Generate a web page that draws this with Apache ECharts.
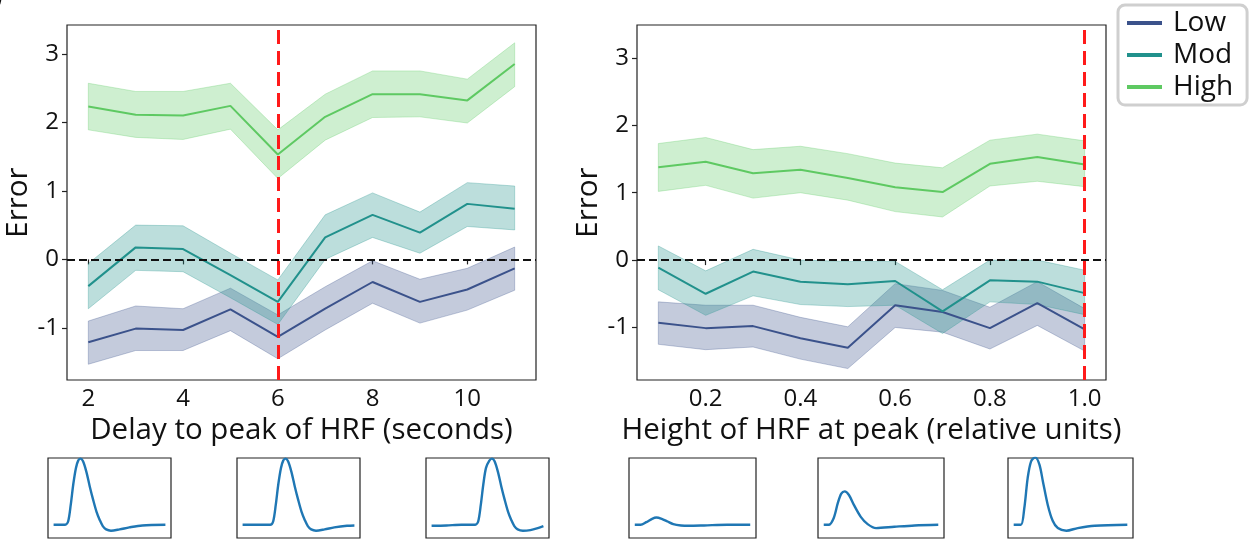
<!DOCTYPE html>
<html>
<head>
<meta charset="utf-8">
<script src="https://cdn.jsdelivr.net/npm/echarts@6/dist/echarts.min.js"></script>
<style>
  html, body { margin: 0; padding: 0; background: #fff; }
  #chart { width: 1249px; height: 540px; }
</style>
</head>
<body>
<div id="chart"></div>
<script>
// ---- data ----
const delays = [2, 3, 4, 5, 6, 7, 8, 9, 10, 11];
const heights = [0.1, 0.2, 0.3, 0.4, 0.5, 0.6, 0.7, 0.8, 0.9, 1.0];

// left panel: error vs delay to peak
const lowDelay   = [-1.21, -1.01, -1.03, -0.73, -1.13, -0.72, -0.33, -0.62, -0.44, -0.13];
const lowDelayHi = [-0.90, -0.68, -0.72, -0.42, -0.81, -0.40, -0.02, -0.29, -0.13, 0.18];
const lowDelayLo = [-1.53, -1.33, -1.33, -1.04, -1.45, -1.03, -0.64, -0.93, -0.74, -0.45];
const modDelay   = [-0.39, 0.175, 0.15, -0.23, -0.62, 0.32, 0.65, 0.39, 0.81, 0.74];
const modDelayHi = [-0.06, 0.50, 0.49, 0.09, -0.30, 0.65, 0.97, 0.69, 1.12, 1.07];
const modDelayLo = [-0.72, -0.16, -0.18, -0.56, -0.95, 0.00, 0.32, 0.09, 0.48, 0.43];
const highDelay   = [2.23, 2.11, 2.10, 2.24, 1.53, 2.08, 2.41, 2.41, 2.32, 2.85];
const highDelayHi = [2.57, 2.45, 2.45, 2.57, 1.89, 2.41, 2.75, 2.75, 2.63, 3.16];
const highDelayLo = [1.89, 1.78, 1.75, 1.90, 1.18, 1.74, 2.07, 2.08, 1.99, 2.52];

// right panel: error vs height at peak
const lowHeight   = [-0.93, -1.01, -0.98, -1.16, -1.30, -0.67, -0.77, -1.01, -0.64, -1.03];
const lowHeightHi = [-0.62, -0.67, -0.67, -0.85, -0.99, -0.35, -0.45, -0.70, -0.32, -0.72];
const lowHeightLo = [-1.25, -1.33, -1.29, -1.47, -1.61, -1.00, -1.07, -1.32, -0.97, -1.35];
const modHeight   = [-0.11, -0.50, -0.17, -0.32, -0.36, -0.31, -0.76, -0.30, -0.32, -0.49];
const modHeightHi = [0.21, -0.16, 0.16, 0.00, -0.02, -0.02, -0.44, 0.00, 0.00, -0.15];
const modHeightLo = [-0.44, -0.82, -0.53, -0.66, -0.69, -0.67, -1.09, -0.62, -0.66, -0.81];
const highHeight   = [1.38, 1.46, 1.29, 1.34, 1.22, 1.08, 1.01, 1.43, 1.53, 1.42];
const highHeightHi = [1.73, 1.82, 1.64, 1.69, 1.58, 1.44, 1.37, 1.78, 1.87, 1.77];
const highHeightLo = [1.02, 1.11, 0.92, 1.00, 0.89, 0.72, 0.64, 1.10, 1.17, 1.09];

// ticks
const delayTicks = [2, 4, 6, 8, 10];
const delayTickLabels = ['2', '4', '6', '8', '10'];
const heightTicks = [0.2, 0.4, 0.6, 0.8, 1.0];
const heightTickLabels = ['0.2', '0.4', '0.6', '0.8', '1.0'];
const errorTicks = [-1, 0, 1, 2, 3];
const errorTickLabels = ['-1', '0', '1', '2', '3'];

// HRF thumbnails: [time (s), response]
const hrfDelayA = [[0, 0], [3.1, 0], [3.9, 0.05], [4.6, 0.3], [5.3, 0.62], [6.0, 0.86], [6.6, 0.97], [7.2, 1.0],
  [7.9, 0.96], [8.8, 0.8], [9.7, 0.58], [10.6, 0.38], [11.5, 0.2], [12.4, 0.07], [13.2, -0.02], [14.1, -0.07],
  [15.4, -0.09], [17.7, -0.07], [20.3, -0.04], [23.8, -0.01], [30, 0]];
const hrfDelayB = [[0, 0], [7.4, 0], [8.2, 0.05], [8.9, 0.3], [9.6, 0.62], [10.3, 0.86], [10.9, 0.97], [11.5, 1.0],
  [12.2, 0.96], [13.1, 0.8], [14.0, 0.58], [14.9, 0.38], [15.8, 0.2], [16.7, 0.07], [17.5, -0.02], [18.4, -0.07],
  [19.7, -0.09], [22.0, -0.07], [24.6, -0.04], [28.0, -0.015], [30, -0.01]];
const hrfDelayC = [[0, -0.015], [4, -0.01], [8, 0], [11.7, 0], [12.5, 0.05], [13.2, 0.3], [13.9, 0.62], [14.6, 0.86],
  [15.5, 0.97], [16.2, 1.0], [16.9, 0.96], [17.8, 0.8], [18.7, 0.58], [19.6, 0.38], [20.5, 0.2], [21.4, 0.07],
  [22.2, -0.02], [23.1, -0.07], [24.5, -0.09], [26.5, -0.08], [28.5, -0.05], [30, -0.02]];
const hrfHeightA = [[0, 0], [1.5, 0], [3, 0.04], [4.5, 0.09], [5.6, 0.11], [7, 0.09], [8.5, 0.05], [10, 0.01],
  [12, -0.01], [14, -0.015], [18, -0.01], [24, 0], [30, 0]];
const hrfHeightB = [[0, 0], [1.3, 0], [2.6, 0.1], [3.7, 0.33], [4.6, 0.47], [5.5, 0.505], [6.6, 0.45], [7.9, 0.3],
  [9.7, 0.12], [11.5, 0.01], [13.7, -0.05], [18.5, -0.03], [23.8, -0.01], [30, 0]];
const hrfHeightC = [[0, 0], [1.9, 0], [2.8, 0.25], [3.7, 0.71], [4.6, 0.96], [5.7, 1.02], [6.8, 0.91], [7.7, 0.66],
  [9.0, 0.3], [10.3, 0.06], [11.65, -0.05], [13.9, -0.09], [16.9, -0.05], [21.4, -0.015], [30, 0]];

// ---- styling ----
const FONT = "'Open Sans', 'Noto Sans', sans-serif";
const INK = '#111';
const FRAME = '#222';
const C_LOW = '#3b528b', C_MOD = '#21918c', C_HIGH = '#5ec962';

function tickLabel(ticks, labels) {
  return function (v) {
    const i = ticks.findIndex(t => Math.abs(t - v) < 1e-9);
    return i >= 0 ? labels[i] : '';
  };
}

function mainX(g, min, max, ticks, labels, name) {
  return {
    type: 'value', gridIndex: g, min: min, max: max,
    name: name, nameLocation: 'middle', nameGap: 31,
    nameTextStyle: { fontSize: 29.5, color: INK, fontFamily: FONT },
    axisLine: { show: false },
    axisTick: { show: true, length: 5, customValues: ticks, lineStyle: { color: FRAME, width: 1.2 } },
    axisLabel: { customValues: ticks, formatter: tickLabel(ticks, labels), fontSize: 24, color: INK, fontFamily: FONT, margin: 7 },
    splitLine: { show: false }
  };
}

function mainY(g, min, max) {
  return {
    type: 'value', gridIndex: g, min: min, max: max,
    name: 'Error', nameLocation: 'middle', nameGap: 29,
    nameTextStyle: { fontSize: 29.5, color: INK, fontFamily: FONT },
    axisLine: { show: false },
    axisTick: { show: true, length: 5, customValues: errorTicks, lineStyle: { color: FRAME, width: 1.2 } },
    axisLabel: { customValues: errorTicks, formatter: tickLabel(errorTicks, errorTickLabels), fontSize: 24, color: INK, fontFamily: FONT, margin: 8 },
    splitLine: { show: false }
  };
}

function band(g, xs, lo, hi, color) {
  return {
    type: 'custom', xAxisIndex: g, yAxisIndex: g, silent: true, z: 1,
    data: xs.map((x, i) => [x, lo[i], hi[i]]),
    encode: { x: 0, y: [1, 2] },
    renderItem: function (params, api) {
      if (params.dataIndex !== 0) return;
      const pts = [];
      for (let i = 0; i < xs.length; i++) pts.push(api.coord([xs[i], hi[i]]));
      for (let i = xs.length - 1; i >= 0; i--) pts.push(api.coord([xs[i], lo[i]]));
      return {
        type: 'polygon', shape: { points: pts },
        style: { fill: color, stroke: color, lineWidth: 1, opacity: 0.3 }
      };
    }
  };
}

function meanLine(g, name, xs, ys, color, extra) {
  return Object.assign({
    name: name, type: 'line', xAxisIndex: g, yAxisIndex: g, z: 2,
    data: xs.map((x, i) => [x, ys[i]]),
    showSymbol: false, symbol: 'none',
    lineStyle: { color: color, width: 2 }, itemStyle: { color: color }
  }, extra || {});
}

function refLines(xRef) {
  return {
    silent: true, symbol: 'none', label: { show: false },
    data: [
      { yAxis: 0, lineStyle: { color: '#111', width: 2, type: [8, 4] } },
      { xAxis: xRef, lineStyle: { color: '#ff1a1a', width: 3, type: [14, 7] } }
    ]
  };
}

// thumbnails
const thumbs = [
  { left: 48, width: 123, data: hrfDelayA },
  { left: 237, width: 123, data: hrfDelayB },
  { left: 426, width: 123, data: hrfDelayC },
  { left: 629, width: 127, data: hrfHeightA },
  { left: 818, width: 126, data: hrfHeightB },
  { left: 1008, width: 125, data: hrfHeightC }
];

const grids = [
  { left: 67, top: 25, width: 469, height: 355, show: true, borderColor: FRAME, borderWidth: 1.2, backgroundColor: 'transparent' },
  { left: 637, top: 25, width: 469, height: 355, show: true, borderColor: FRAME, borderWidth: 1.2, backgroundColor: 'transparent' }
];
const xAxes = [
  mainX(0, 1.55, 11.45, delayTicks, delayTickLabels, 'Delay to peak of HRF (seconds)'),
  mainX(1, 0.055, 1.045, heightTicks, heightTickLabels, 'Height of HRF at peak (relative units)')
];
const yAxes = [mainY(0, -1.76, 3.42), mainY(1, -1.78, 3.49)];
const series = [
  band(0, delays, lowDelayLo, lowDelayHi, C_LOW),
  band(0, delays, modDelayLo, modDelayHi, C_MOD),
  band(0, delays, highDelayLo, highDelayHi, C_HIGH),
  meanLine(0, 'Low', delays, lowDelay, C_LOW),
  meanLine(0, 'Mod', delays, modDelay, C_MOD),
  meanLine(0, 'High', delays, highDelay, C_HIGH, { markLine: refLines(6) }),
  band(1, heights, lowHeightLo, lowHeightHi, C_LOW),
  band(1, heights, modHeightLo, modHeightHi, C_MOD),
  band(1, heights, highHeightLo, highHeightHi, C_HIGH),
  meanLine(1, 'Low', heights, lowHeight, C_LOW),
  meanLine(1, 'Mod', heights, modHeight, C_MOD),
  meanLine(1, 'High', heights, highHeight, C_HIGH, { markLine: refLines(1.0) })
];

thumbs.forEach(function (t, k) {
  const g = k + 2;
  grids.push({ left: t.left, top: 458, width: t.width, height: 80, show: true, borderColor: FRAME, borderWidth: 1.2, backgroundColor: 'transparent' });
  xAxes.push({ type: 'value', gridIndex: g, min: -1.5, max: 31.5, show: false, splitLine: { show: false } });
  yAxes.push({ type: 'value', gridIndex: g, min: -0.2, max: 1.01, show: false, splitLine: { show: false } });
  series.push({
    type: 'line', xAxisIndex: g, yAxisIndex: g, data: t.data, showSymbol: false, symbol: 'none',
    smooth: 0.3, lineStyle: { color: '#1f77b4', width: 2.4 }, silent: true
  });
});

const chart = echarts.init(document.getElementById('chart'), null, { renderer: 'canvas' });
chart.setOption({
  animation: false,
  backgroundColor: '#fff',
  textStyle: { fontFamily: FONT },
  grid: grids,
  xAxis: xAxes,
  yAxis: yAxes,
  legend: {
    data: ['Low', 'Mod', 'High'],
    orient: 'vertical', left: 1118, top: 5,
    icon: 'rect', itemWidth: 35, itemHeight: 4, itemGap: 2,
    selectedMode: false,
    textStyle: { fontSize: 28, color: INK, fontFamily: FONT, lineHeight: 30, padding: [0, 0, 0, 6] },
    padding: [3, 14, 3, 9],
    borderColor: '#cfcfcf', borderWidth: 3, borderRadius: 7, backgroundColor: '#fff'
  },
  graphic: [
    { type: 'text', x: -7, y: -22, style: { text: ')', fontSize: 34, fill: INK, fontFamily: FONT } }
  ],
  series: series
});
</script>
</body>
</html>
